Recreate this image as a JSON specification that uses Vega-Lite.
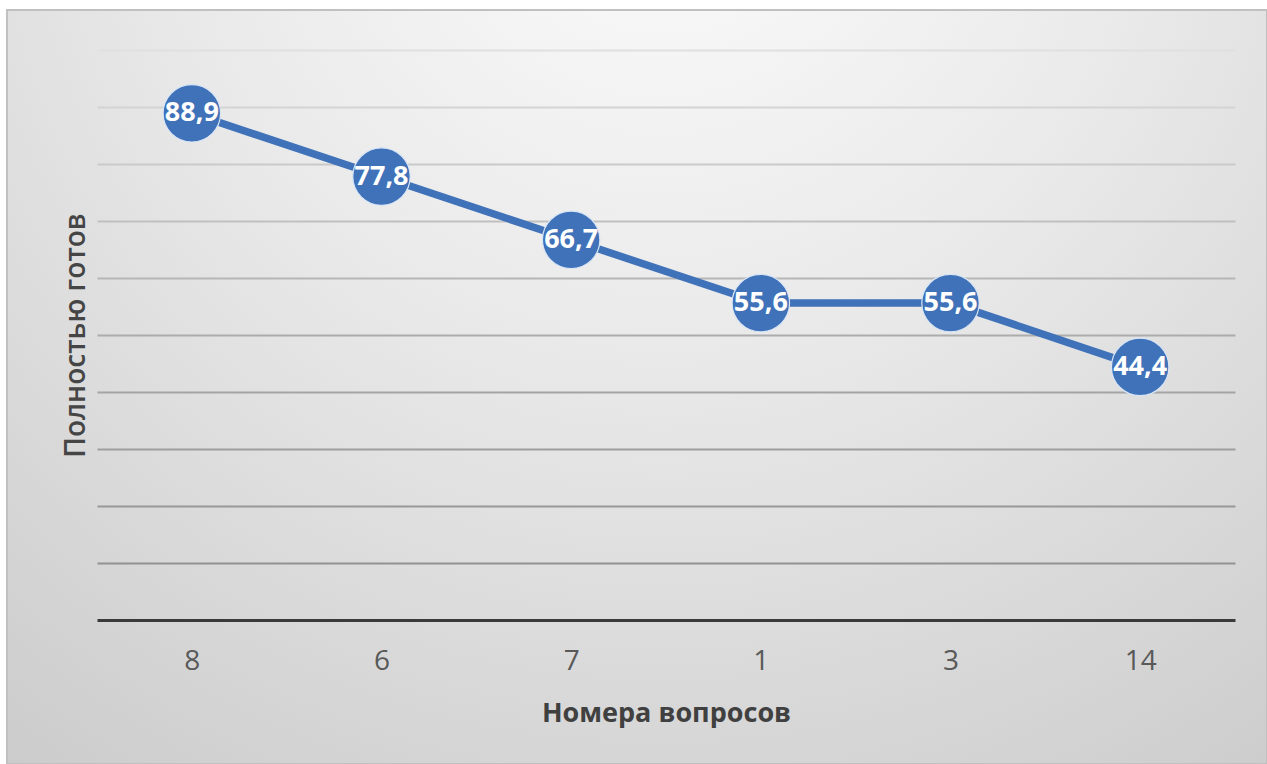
{
  "$schema": "https://vega.github.io/schema/vega-lite/v6.json",
  "width": 1260,
  "height": 754,
  "autosize": {"type": "none"},
  "padding": {"left": 7, "top": 10, "right": 0, "bottom": 0},
  "background": "#ffffff",
  "view": {
    "fill": {
      "gradient": "radial",
      "x1": 0.52, "y1": 0.08, "r1": 0,
      "x2": 0.52, "y2": 0.08, "r2": 0.95,
      "stops": [
        {"offset": 0, "color": "#fcfcfc"},
        {"offset": 0.4, "color": "#eaeaea"},
        {"offset": 0.75, "color": "#d6d6d6"},
        {"offset": 1, "color": "#c8c8c8"}
      ]
    },
    "stroke": "#c0c0c0",
    "strokeWidth": 2
  },
  "config": {
    "font": "Open Sans",
    "locale": {"number": {"decimal": ",", "thousands": "\u00a0", "grouping": [3], "currency": ["", " ₽"]}}
  },
  "data": {
    "values": [
      {"q": "8", "v": 88.9},
      {"q": "6", "v": 77.8},
      {"q": "7", "v": 66.7},
      {"q": "1", "v": 55.6},
      {"q": "3", "v": 55.6},
      {"q": "14", "v": 44.4}
    ]
  },
  "encoding": {
    "x": {
      "field": "q",
      "type": "nominal",
      "sort": null,
      "scale": {"range": [90, 1228], "paddingInner": 0, "paddingOuter": 0},
      "axis": {
        "title": "Номера вопросов",
        "orient": "bottom",
        "offset": -144,
        "labelAngle": 0,
        "ticks": false,
        "grid": false,
        "domainColor": "#3a3a3a",
        "domainWidth": 3,
        "labelFont": "Open Sans",
        "labelFontSize": 28,
        "labelColor": "#595959",
        "labelPadding": 27,
        "titleFont": "Open Sans",
        "titleFontSize": 27,
        "titleFontWeight": "bold",
        "titleColor": "#404040",
        "titlePadding": 25
      }
    },
    "y": {
      "field": "v",
      "type": "quantitative",
      "scale": {"domain": [0, 100], "range": [610, 40], "nice": false},
      "axis": {
        "title": "Полностью готов",
        "offset": -90,
        "values": [10, 20, 30, 40, 50, 60, 70, 80, 90, 100],
        "labels": false,
        "ticks": false,
        "domain": false,
        "grid": true,
        "gridWidth": 2,
        "gridColor": {
          "condition": [
            {"test": "datum.value >= 95", "value": "#e0e0e0"},
            {"test": "datum.value >= 85", "value": "#d4d4d4"},
            {"test": "datum.value >= 75", "value": "#cacaca"},
            {"test": "datum.value >= 65", "value": "#c0c0c0"},
            {"test": "datum.value >= 55", "value": "#b6b6b6"},
            {"test": "datum.value >= 45", "value": "#acacac"},
            {"test": "datum.value >= 35", "value": "#a4a4a4"},
            {"test": "datum.value >= 25", "value": "#9e9e9e"},
            {"test": "datum.value >= 15", "value": "#989898"}
          ],
          "value": "#929292"
        },
        "titleFont": "Open Sans",
        "titleFontSize": 28,
        "titleFontWeight": 600,
        "titleColor": "#454545",
        "titlePadding": 7
      }
    }
  },
  "layer": [
    {"mark": {"type": "line", "color": "#3f72b9", "strokeWidth": 7.5}},
    {"mark": {"type": "point", "filled": true, "shape": "circle", "size": 3300, "color": "#3f72b9", "stroke": "#d8e5f5", "strokeWidth": 1.2, "opacity": 1}},
    {
      "mark": {"type": "text", "color": "#ffffff", "fontSize": 27, "fontWeight": "bold", "font": "Open Sans", "baseline": "middle", "align": "center"},
      "encoding": {"text": {"field": "v", "type": "quantitative", "format": ".1f"}}
    }
  ]
}
